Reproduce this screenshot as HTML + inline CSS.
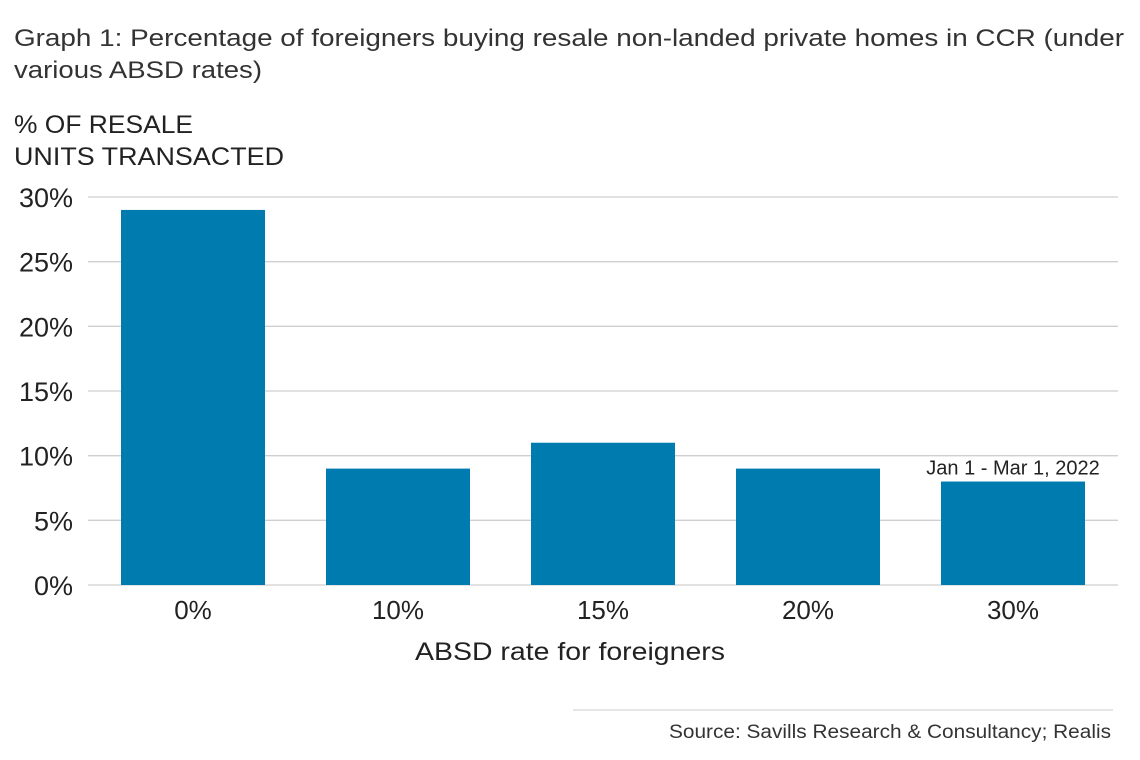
<!DOCTYPE html>
<html><head><meta charset="utf-8"><style>
body{margin:0;background:#fff;}
svg{display:block;font-family:"Liberation Sans",sans-serif;}
</style></head><body>
<svg id="chart" width="1140" height="760">
<text x="14" y="46" font-size="24" fill="#333" textLength="1110" lengthAdjust="spacingAndGlyphs">Graph 1: Percentage of foreigners buying resale non-landed private homes in CCR (under</text>
<text x="14" y="78" font-size="24" fill="#333" textLength="248" lengthAdjust="spacingAndGlyphs">various ABSD rates)</text>
<text x="14" y="133" font-size="25" fill="#222" textLength="179" lengthAdjust="spacingAndGlyphs">% OF RESALE</text>
<text x="14" y="165" font-size="25" fill="#222" textLength="270" lengthAdjust="spacingAndGlyphs">UNITS TRANSACTED</text>
<g id="grid"></g>
<g id="bars"></g>
<g id="xlabels"></g>
<text x="415" y="660" font-size="25" fill="#222" textLength="310" lengthAdjust="spacingAndGlyphs">ABSD rate for foreigners</text>
<line x1="573" y1="710" x2="1113" y2="710" stroke="#ccc" stroke-width="1"/>
<text x="669" y="738" font-size="19" fill="#333" textLength="442" lengthAdjust="spacingAndGlyphs">Source: Savills Research &amp; Consultancy; Realis</text>
</svg>
<script>
const categories = ["0%","10%","15%","20%","30%"];
const values = [29, 9, 11, 9, 8];
const yTicks = [0,5,10,15,20,25,30];
const yTickLabels = ["0%","5%","10%","15%","20%","25%","30%"];
const annotationText = "Jan 1 - Mar 1, 2022";

const NS = "http://www.w3.org/2000/svg";
const y0 = 585, y1 = 197, yMax = 30;
const xLeft = 88, xRight = 1118;
function yScale(v){ return y0 - (v / yMax) * (y0 - y1); }
const step = 205, barW = 144, firstX = 121;
function xScale(i){ return firstX + i * step; }
function mk(tag, attrs, parent){ const e=document.createElementNS(NS,tag); for(const k in attrs) e.setAttribute(k,attrs[k]); parent.appendChild(e); return e; }

const grid = document.getElementById("grid");
yTicks.forEach((t,i)=>{
  const l = mk("line",{x1:xLeft,x2:xRight,y1:yScale(t),y2:yScale(t),stroke:"#cfcfcf","stroke-width":1.3},grid);
  
  
  const tx = mk("text",{x:73,y:yScale(t)+10,"font-size":27,fill:"#222","text-anchor":"end"},grid);
  tx.textContent = yTickLabels[i];
  
  
});
const bars = document.getElementById("bars");
const xl = document.getElementById("xlabels");
values.forEach((v,i)=>{
  const r = mk("rect",{x:xScale(i),y:yScale(v),width:barW,height:y0-yScale(v),fill:"#007bb0"},bars);
  
  
  const t = mk("text",{x:xScale(i)+barW/2,y:619,"font-size":26,fill:"#222","text-anchor":"middle"},xl);
  t.textContent = categories[i];
  
  
});
const last = values.length-1;
const a = mk("text",{x:xScale(last)+barW/2,y:yScale(values[last])-7,"font-size":20,fill:"#222","text-anchor":"middle"},bars);
a.textContent = annotationText;


</script>
</body></html>
